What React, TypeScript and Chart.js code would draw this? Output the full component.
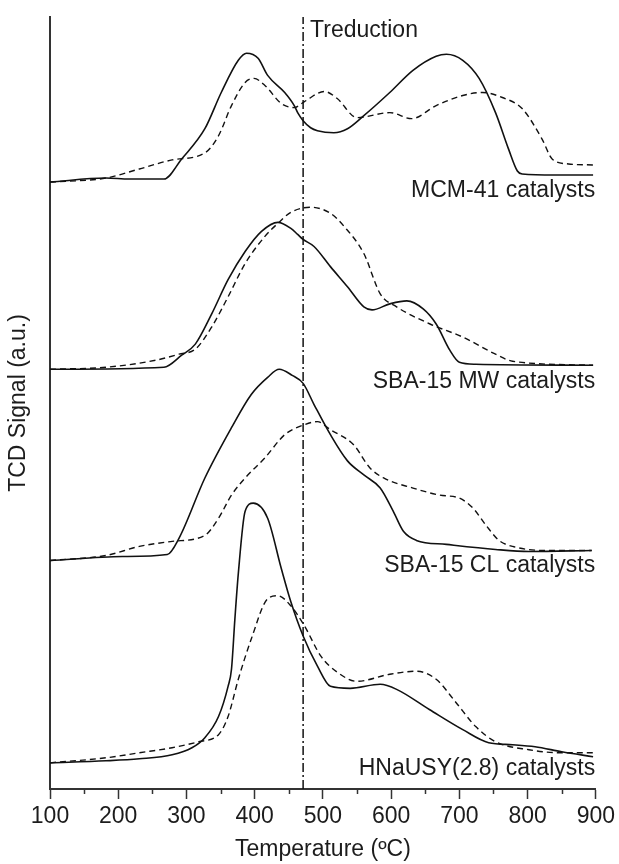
import React, { useEffect, useRef } from "react";
import { Chart, registerables } from "chart.js";

Chart.register(...registerables);

// Temperature (ºC) and TCD signal (a.u., stacked offsets)
const mcmSolidT = [100, 182, 216, 267, 293, 327, 351, 376, 388, 405, 419, 444, 458, 463, 471, 482, 492, 516, 536, 560, 598, 632, 666, 681, 705, 729, 753, 772, 785, 792, 840, 896];
const mcmSolidY = [603, 607, 606, 606, 626, 656, 692, 724, 731, 726, 709, 692, 679, 672, 664, 657, 654, 652, 656, 669, 692, 714, 728, 730, 724, 706, 672, 636, 614, 611, 610, 610];
const mcmDashT = [100, 182, 231, 279, 327, 347, 366, 386, 399, 415, 439, 458, 473, 502, 521, 550, 598, 630, 666, 705, 734, 763, 792, 821, 836, 860, 896];
const mcmDashY = [603, 607, 616, 625, 632, 649, 679, 702, 706, 699, 681, 677, 683, 693, 686, 667, 672, 666, 679, 689, 692, 687, 676, 646, 626, 621, 620];

const mwSolidT = [100, 267, 293, 313, 337, 361, 386, 410, 434, 453, 463, 471, 487, 511, 536, 560, 572, 598, 623, 647, 666, 686, 700, 724, 896];
const mwSolidY = [417, 419, 431, 442, 472, 506, 534, 554, 563, 557, 551, 546, 539, 519, 499, 479, 476, 482, 485, 477, 462, 436, 424, 422, 421];
const mwDashT = [100, 182, 255, 289, 313, 337, 361, 386, 415, 434, 453, 482, 511, 531, 560, 584, 608, 657, 705, 753, 778, 896];
const mwDashY = [417, 419, 426, 432, 437, 459, 489, 522, 549, 562, 573, 578, 572, 559, 532, 492, 479, 462, 449, 432, 425, 421];

const clSolidT = [100, 206, 272, 289, 327, 366, 395, 419, 436, 455, 471, 487, 511, 536, 560, 584, 603, 618, 637, 681, 753, 802, 894];
const clSolidY = [227, 231, 233, 249, 309, 359, 392, 409, 417, 411, 403, 382, 352, 326, 312, 299, 276, 256, 247, 243, 238, 236, 237];
const clDashT = [100, 182, 231, 279, 327, 347, 366, 386, 415, 444, 473, 492, 511, 545, 569, 589, 632, 671, 700, 720, 739, 758, 778, 826, 894];
const clDashY = [227, 232, 241, 246, 252, 269, 292, 309, 329, 352, 362, 365, 357, 342, 319, 309, 299, 292, 289, 279, 262, 247, 241, 237, 237];

const hnSolidT = [100, 182, 231, 279, 308, 327, 347, 361, 366, 371, 376, 386, 398, 419, 439, 453, 471, 492, 511, 540, 584, 608, 656, 705, 743, 778, 811, 850, 896];
const hnSolidY = [26, 28, 30, 34, 41, 51, 72, 102, 119, 169, 214, 276, 284, 269, 219, 186, 152, 122, 102, 100, 104, 99, 79, 59, 46, 44, 42, 37, 32];
const hnDashT = [100, 182, 231, 279, 318, 347, 361, 376, 395, 419, 434, 453, 473, 497, 521, 550, 598, 637, 666, 695, 724, 753, 802, 850, 896];
const hnDashY = [26, 31, 36, 41, 47, 54, 72, 109, 149, 189, 192, 182, 162, 132, 116, 107, 114, 117, 109, 86, 62, 47, 39, 36, 36];

const seriesNames = ["MCM-41 catalysts", "SBA-15 MW catalysts", "SBA-15 CL catalysts", "HNaUSY(2.8) catalysts"];
const seriesLabelY = [594, 405, 222, 20];
const tReduction = 471;
const reductionLabel = "Treduction";
const xTicks = [100, 200, 300, 400, 500, 600, 700, 800, 900];
const minorTicks = [150, 250, 350, 450, 550, 650, 750, 850];
const yMax = 767;

const FONT = '"Liberation Sans", Arial, sans-serif';
const INK = "#1c1c1c";

const pts = (t: number[], y: number[]) => t.map((v, i) => ({ x: v, y: y[i] }));

const solid = (t: number[], y: number[]) => ({
  data: pts(t, y),
  borderColor: "#111",
  borderWidth: 1.6,
  pointRadius: 0,
  cubicInterpolationMode: "monotone" as const,
  fill: false,
});
const dashed = (t: number[], y: number[]) => ({
  ...solid(t, y),
  borderWidth: 1.4,
  borderDash: [6, 4],
});

const annotPlugin = {
  id: "annot",
  afterDraw(chart: any) {
    const { ctx } = chart;
    const x = chart.scales.x;
    const y = chart.scales.y;
    ctx.save();
    ctx.strokeStyle = "#333";
    ctx.lineWidth = 1.5;
    minorTicks.forEach((t) => {
      const px = Math.round(x.getPixelForValue(t)) + 0.5;
      ctx.beginPath();
      ctx.moveTo(px, y.bottom);
      ctx.lineTo(px, y.bottom + 5);
      ctx.stroke();
    });
    ctx.font = `23px ${FONT}`;
    ctx.fillStyle = INK;
    ctx.textBaseline = "middle";
    ctx.textAlign = "right";
    seriesNames.forEach((n, i) => {
      ctx.fillText(n, x.getPixelForValue(899), y.getPixelForValue(seriesLabelY[i]));
    });
    ctx.textAlign = "left";
    ctx.fillText(reductionLabel, x.getPixelForValue(tReduction) + 7, y.getPixelForValue(yMax - 14));
    ctx.restore();
  },
};

export default function App() {
  const ref = useRef<HTMLCanvasElement | null>(null);
  useEffect(() => {
    if (!ref.current) return;
    const chart = new Chart(ref.current, {
      type: "line",
      data: {
        datasets: [
          solid(mcmSolidT, mcmSolidY),
          dashed(mcmDashT, mcmDashY),
          solid(mwSolidT, mwSolidY),
          dashed(mwDashT, mwDashY),
          solid(clSolidT, clSolidY),
          dashed(clDashT, clDashY),
          solid(hnSolidT, hnSolidY),
          dashed(hnDashT, hnDashY),
          {
            data: [
              { x: tReduction, y: 0 },
              { x: tReduction, y: yMax },
            ],
            borderColor: "#111",
            borderWidth: 1.5,
            borderDash: [9, 3, 2, 3],
            pointRadius: 0,
            fill: false,
          },
        ] as any,
      },
      options: {
        responsive: false,
        animation: false,
        events: [],
        layout: { padding: { top: 17, right: 18, left: 0, bottom: 0 } },
        plugins: { legend: { display: false }, tooltip: { enabled: false } },
        scales: {
          x: {
            type: "linear",
            min: 100,
            max: 900,
            afterBuildTicks: (s: any) => {
              s.ticks = xTicks.map((v) => ({ value: v }));
            },
            afterFit: (s: any) => {
              s.height = 75;
            },
            ticks: { color: INK, font: { size: 23, family: FONT }, padding: 4, maxRotation: 0 },
            grid: { drawOnChartArea: false, drawTicks: true, tickLength: 10, tickColor: "#333", tickWidth: 1.5 },
            border: { display: true, color: "#333", width: 2 },
            title: {
              display: true,
              text: "Temperature (ºC)",
              color: INK,
              font: { size: 23, family: FONT },
              padding: { top: 0, bottom: 1 },
            },
          },
          y: {
            type: "linear",
            min: 0,
            max: yMax,
            afterFit: (s: any) => {
              s.width = 50;
            },
            ticks: { display: false },
            grid: { display: false, drawTicks: false },
            border: { display: true, color: "#333", width: 2 },
            title: {
              display: true,
              text: "TCD Signal (a.u.)",
              color: INK,
              font: { size: 23, family: FONT },
              padding: { top: 5, bottom: 0 },
            },
          },
        },
      },
      plugins: [annotPlugin],
    });
    return () => chart.destroy();
  }, []);
  return (
    <div style={{ position: "absolute", left: 0, top: 0, width: 619, height: 864, background: "#fff" }}>
      <canvas ref={ref} width={619} height={864} style={{ display: "block" }} />
    </div>
  );
}
